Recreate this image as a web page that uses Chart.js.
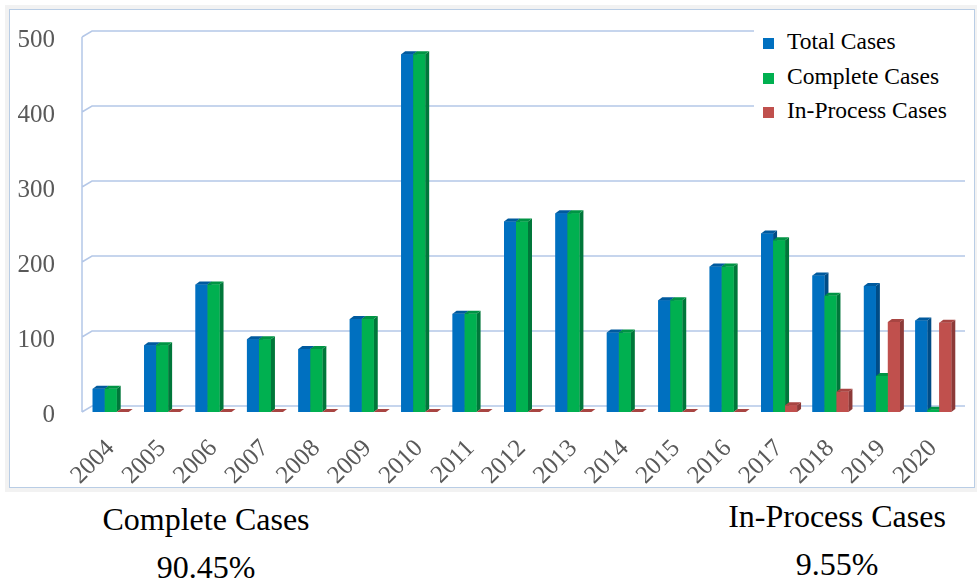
<!DOCTYPE html>
<html>
<head>
<meta charset="utf-8">
<script src="https://cdn.jsdelivr.net/npm/chart.js@4.4.1/dist/chart.umd.min.js"></script>
<style>
  body { margin: 0; width: 977px; height: 578px; position: relative; overflow: hidden; background: #fff;
         font-family: 'Liberation Serif', 'Times New Roman', serif; }
  #frame { position: absolute; left: 9px; top: 9px; width: 964px; height: 477px;
           border: 1.5px solid #b9cde5; box-shadow: 0 0 0 4px #f2f2f2; }
  #wrap { position: absolute; left: 0; top: 0; width: 977px; height: 490px; }
  #legend { position: absolute; left: 754px; top: 24px; width: 212px; height: 104px; background: #fff; }
  .item { position: absolute; left: 9px; height: 30px; font-size: 23.5px; color: #000; white-space: nowrap; }
  .item span.box { display: inline-block; width: 11px; height: 11px; margin-right: 13px; }
  .note { position: absolute; width: 300px; text-align: center; font-size: 32px; line-height: 48px; color: #000; }
</style>
</head>
<body>
<div id="frame"></div>
<div id="wrap"><canvas id="chart" width="977" height="490"></canvas></div>
<div id="legend"></div>
<div class="note" style="left:56px; top:495px">Complete Cases<br>90.45%</div>
<div class="note" style="left:687px; top:492px">In-Process Cases<br>9.55%</div>
<script>
// years on the x axis
var years = ["2004", "2005", "2006", "2007", "2008", "2009", "2010", "2011", "2012",
             "2013", "2014", "2015", "2016", "2017", "2018", "2019", "2020"];

var totalCases     = [31, 89, 170, 97, 84, 124, 477, 131, 254, 265, 106, 149, 194, 238, 182, 168, 122];
var completeCases  = [31, 89, 170, 97, 84, 124, 477, 131, 254, 265, 106, 149, 194, 229, 155, 48, 3];
var inProcessCases = [0, 0, 0, 0, 0, 0, 0, 0, 0, 0, 0, 0, 0, 9, 27, 120, 119];

var yTicks = [0, 100, 200, 300, 400, 500];

var seriesNames = ["Total Cases", "Complete Cases", "In-Process Cases"];
// front, side, top
var seriesColors = [
    ['#0070c0', '#004c86', '#005a9e'],
    ['#00b050', '#00773a', '#009444'],
    ['#c0504d', '#8c3a38', '#a84542']
];

//Draws the back wall grid with the little 3D slant
var grid3d = {
    id: 'grid3d',
    beforeDatasetsDraw(chart) {
        var ctx = chart.ctx, a = chart.chartArea, y = chart.scales.y;
        ctx.save();
        ctx.strokeStyle = '#b4c7e7';
        ctx.lineWidth = 1.5;
        ctx.beginPath();
        var wx = a.left - 3;
        ctx.moveTo(wx, y.getPixelForValue(500));
        ctx.lineTo(wx, y.getPixelForValue(0));
        yTicks.forEach(function (v) {
            var py = y.getPixelForValue(v);
            ctx.moveTo(wx, py);
            ctx.lineTo(wx + 10, py - 6);
            ctx.lineTo(a.right + 6, py - 6);
        });
        ctx.stroke();
        ctx.restore();
    }
};

//Redraws every bar with a side and a top face, in series order
var bars3d = {
    id: 'bars3d',
    afterDatasetsDraw(chart) {
        var ctx = chart.ctx;
        var dx = 4, dy = 3;
        ctx.save();
        for (var i = 0; i < chart.data.datasets.length; i++) {
            var c = seriesColors[i];
            chart.getDatasetMeta(i).data.forEach(function (bar) {
                var l = bar.x - bar.width / 2, r = bar.x + bar.width / 2;
                var t = Math.min(bar.y, bar.base), b = bar.base;
                ctx.fillStyle = c[1];
                ctx.beginPath();
                ctx.moveTo(r, t); ctx.lineTo(r + dx, t - dy);
                ctx.lineTo(r + dx, b - dy); ctx.lineTo(r, b);
                ctx.closePath(); ctx.fill();
                ctx.fillStyle = c[0];
                ctx.fillRect(l, t, r - l, b - t);
                ctx.fillStyle = c[2];
                ctx.beginPath();
                ctx.moveTo(l, t); ctx.lineTo(l + dx, t - dy);
                ctx.lineTo(r + dx, t - dy); ctx.lineTo(r, t);
                ctx.closePath(); ctx.fill();
            });
        }
        ctx.restore();
    }
};

var datasets = [totalCases, completeCases, inProcessCases].map(function (vals, i) {
    return {
        label: seriesNames[i],
        data: vals,
        backgroundColor: seriesColors[i][0],
        borderWidth: 0,
        categoryPercentage: 0.7,
        barPercentage: 1.0
    };
});

var chart = new Chart(document.getElementById("chart"), {
    type: 'bar',
    data: { labels: years, datasets: datasets },
    options: {
        responsive: false,
        animation: false,
        layout: { padding: { left: 10, top: 36, right: 18, bottom: 0 } },
        plugins: { legend: { display: false }, tooltip: { enabled: false } },
        scales: {
            x: {
                grid: { display: false },
                border: { display: false },
                ticks: {
                    color: '#595959',
                    font: { family: 'Liberation Serif', size: 25 },
                    minRotation: 45, maxRotation: 45,
                    padding: 14
                },
                afterFit: function (s) { s.height = 78; }
            },
            y: {
                min: 0, max: 500,
                grid: { display: false },
                border: { display: false },
                afterBuildTicks: function (s) { s.ticks = yTicks.map(function (v) { return { value: v }; }); },
                ticks: {
                    color: '#595959',
                    font: { family: 'Liberation Serif', size: 25 },
                    padding: 22,
                    labelOffset: 3
                },
                afterFit: function (s) { s.width = 75; }
            }
        }
    },
    plugins: [grid3d, bars3d]
});

//Legend as a white box over the top right of the plot
var legend = document.getElementById("legend");
seriesNames.forEach(function (name, i) {
    var d = document.createElement("div");
    d.className = "item";
    d.style.top = (4 + i * 34.5) + "px";
    d.innerHTML = '<span class="box" style="background:' + seriesColors[i][0] + '"></span>' + name;
    legend.appendChild(d);
});
</script>
</body>
</html>
